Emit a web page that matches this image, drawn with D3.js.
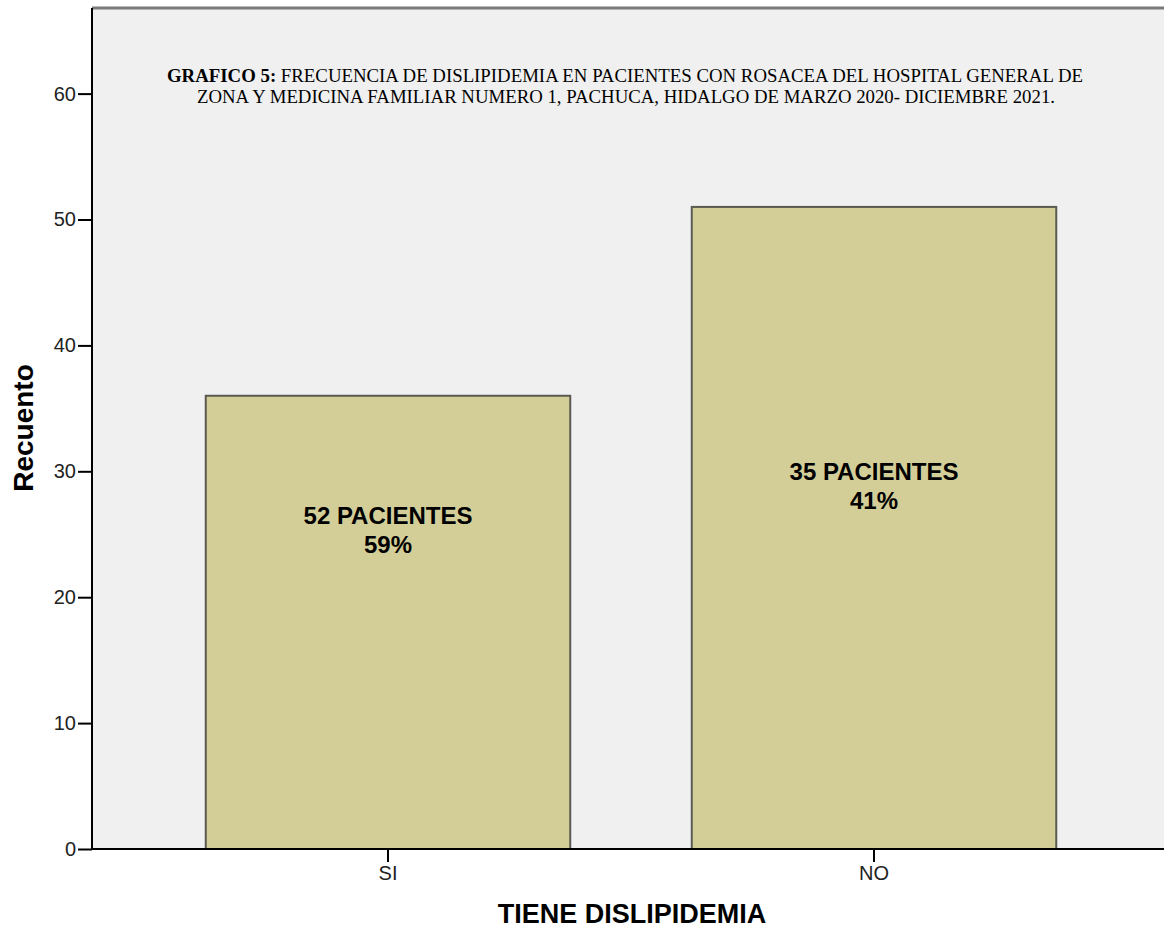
<!DOCTYPE html>
<html>
<head>
<meta charset="utf-8">
<script src="https://cdn.jsdelivr.net/npm/d3@7"></script>
<style>
  body { margin: 0; background: #fff; }
  svg { display: block; }
  .tick text { font-family: "Liberation Sans", Arial, sans-serif; font-size: 20px; fill: #222; }
  .tick line, .domain { stroke: #000; stroke-width: 2px; }
</style>
</head>
<body>
<div id="chart"></div>
<script>
"use strict"

// chart data
const categories = ["SI", "NO"]
const counts = [36, 51]
const labelLines1 = ["52 PACIENTES", "35 PACIENTES"]
const labelLines2 = ["59%", "41%"]
// where the first label line sits, in count units
const labelAt = [25.8, 29.3]
const yTicks = [0, 10, 20, 30, 40, 50, 60]
const titleBold = "GRAFICO 5:"
const titleRest = " FRECUENCIA DE DISLIPIDEMIA EN PACIENTES CON ROSACEA DEL HOSPITAL GENERAL DE"
const titleLine2 = "ZONA Y MEDICINA FAMILIAR NUMERO 1, PACHUCA, HIDALGO DE MARZO 2020- DICIEMBRE 2021."

const W = 1164, H = 930
const plot = { left: 92, top: 8, right: 1164, bottom: 849 }

const svg = d3.select("#chart").append("svg")
    .attr("width", W).attr("height", H)

// scales
const x = d3.scaleBand().domain(categories)
    .range([145, 1117]).paddingInner(0.25).paddingOuter(0.125)
const y = d3.scaleLinear().domain([0, 66.8]).range([plot.bottom, plot.top])

// plot background and top frame
svg.append("rect")
    .attr("x", plot.left).attr("y", plot.top)
    .attr("width", plot.right - plot.left).attr("height", plot.bottom - plot.top)
    .attr("fill", "#f0f0f0")
svg.append("line")
    .attr("x1", plot.left).attr("x2", plot.right)
    .attr("y1", plot.top).attr("y2", plot.top)
    .attr("stroke", "#7a7a7a").attr("stroke-width", 3)

// title
const t1 = svg.append("text")
    .attr("x", 625).attr("y", 82)
    .attr("text-anchor", "middle")
    .attr("font-family", "'Liberation Serif', 'Times New Roman', serif")
    .attr("font-size", 19)
    .attr("textLength", 916).attr("lengthAdjust", "spacingAndGlyphs")
t1.append("tspan").attr("font-weight", "bold").text(titleBold)
t1.append("tspan").text(titleRest)
svg.append("text")
    .attr("x", 626).attr("y", 103)
    .attr("text-anchor", "middle")
    .attr("font-family", "'Liberation Serif', 'Times New Roman', serif")
    .attr("font-size", 19)
    .attr("textLength", 858).attr("lengthAdjust", "spacingAndGlyphs")
    .text(titleLine2)

// bars
const data = categories.map((c, i) => ({ cat: c, value: counts[i], l1: labelLines1[i], l2: labelLines2[i], at: labelAt[i] }))

svg.append("g").selectAll("rect").data(data).join("rect")
    .attr("x", d => x(d.cat))
    .attr("y", d => y(d.value))
    .attr("width", x.bandwidth())
    .attr("height", d => y(0) - y(d.value))
    .attr("fill", "#d3ce98")
    .attr("stroke", "#5a5a50").attr("stroke-width", 2)

// labels in bars
const labels = svg.append("g")
    .attr("font-family", "'Liberation Sans', Arial, sans-serif")
    .attr("font-weight", "bold").attr("font-size", 24)
    .attr("text-anchor", "middle").attr("fill", "#000")
labels.selectAll("text.l1").data(data).join("text").attr("class", "l1")
    .attr("x", d => x(d.cat) + x.bandwidth() / 2)
    .attr("y", d => y(d.at))
    .text(d => d.l1)
labels.selectAll("text.l2").data(data).join("text").attr("class", "l2")
    .attr("x", d => x(d.cat) + x.bandwidth() / 2)
    .attr("y", d => y(d.at) + 29)
    .text(d => d.l2)

// axes
svg.append("g")
    .attr("transform", "translate(" + plot.left + ",0)")
    .call(d3.axisLeft(y).tickValues(yTicks).tickSize(14).tickPadding(2).tickSizeOuter(0))
    .call(g => g.select(".domain").attr("d", "M0," + plot.top + "V" + plot.bottom))

svg.append("g")
    .attr("transform", "translate(0," + plot.bottom + ")")
    .call(d3.axisBottom(x).tickSize(13).tickPadding(4).tickSizeOuter(0))
    .call(g => g.select(".domain").attr("d", "M" + plot.left + ",0H" + plot.right))

// axis titles
svg.append("text")
    .attr("transform", "translate(33,428) rotate(-90)")
    .attr("text-anchor", "middle")
    .attr("font-family", "'Liberation Sans', Arial, sans-serif")
    .attr("font-weight", "bold").attr("font-size", 28)
    .text("Recuento")
svg.append("text")
    .attr("x", 632).attr("y", 923)
    .attr("text-anchor", "middle")
    .attr("font-family", "'Liberation Sans', Arial, sans-serif")
    .attr("font-weight", "bold").attr("font-size", 27)
    .text("TIENE DISLIPIDEMIA")
</script>
</body>
</html>
